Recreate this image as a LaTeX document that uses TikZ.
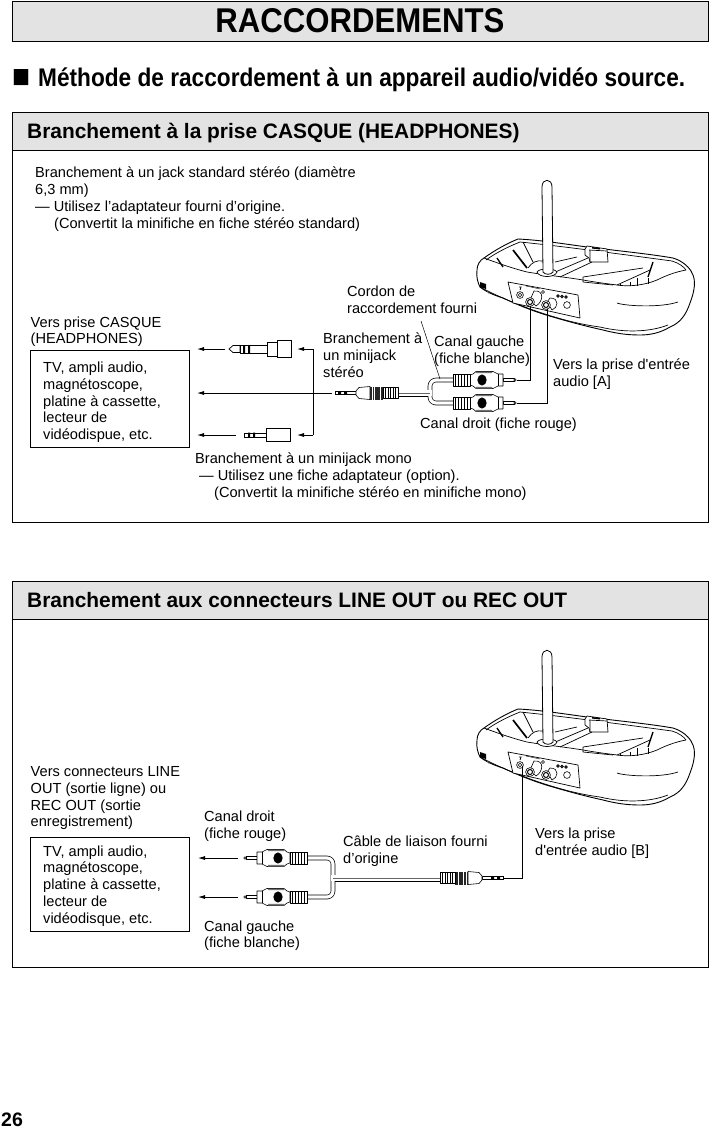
\documentclass[tikz,border=0pt]{standalone}
\usepackage{fontspec}
\setmainfont[Ligatures=TeXOff]{Liberation Sans}
\usetikzlibrary{arrows.meta}
\tikzset{
  x=1pt,y=-1pt,
  txt/.style={inner sep=0pt,anchor=north west,align=left,font=\fontsize{14.6}{16.7}\selectfont,text=black},
  sect/.style={draw=black,line width=0.7pt},
  hdr/.style={draw=black,line width=0.7pt,fill=black!11},
  hdrtxt/.style={inner sep=0pt,anchor=west,font=\bfseries\fontsize{20.9}{24}\selectfont},
  tvbox/.style={draw=black,line width=0.7pt,inner sep=0pt,anchor=north west},
  lead/.style={draw=black,line width=0.8pt,line join=miter},
  arr/.style={lead,-{Latex[length=7pt,width=4pt]}},
  cablew/.style={line width=4.6pt,draw=black,line join=round},
  cablei/.style={line width=3.2pt,draw=white,line join=round},
  cablemw/.style={line width=7pt,draw=black},
  cablemi/.style={line width=5.6pt,draw=white},
  cablemc/.style={line width=0.4pt,draw=black!60},
  plugl/.style={draw=black,line width=0.6pt,fill=white,line join=round},
  dev/.style={line width=0.7pt,line join=round}
}
\newcommand{\ribs}[4]{%
  \draw[plugl] (#1,{#4-#3}) rectangle (#2,{#4+#3});
  \foreach \k in {1,...,5}{\draw[line width=0.8pt] ({#1+(#2-#1)*\k/6},{#4-#3}) -- ({#1+(#2-#1)*\k/6},{#4+#3});}
}
% RCA plug, local x: -12 pin end, 0 = box, 50 = cable end, on y=0
\newcommand{\rca}{%
  \draw[plugl] (-11,-1.5) rectangle (0,1.5);
  \draw[line width=0.6pt,fill=white] (-12,0) circle (1.2pt);
  \draw[plugl] (0,-6) -- (5,-6) -- (10,-8.5) -- (27,-8.5) -- (30,-6) -- (33,-5) -- (33,5) -- (30,6) -- (27,8.5) -- (10,8.5) -- (5,6) -- (0,6) -- cycle;
  \draw[line width=0.6pt] (5,-6) -- (5,6);
  \fill[black!55] (11,-8.5) rectangle (27,-6.8) (11,8.5) rectangle (27,6.8);
  \fill[black] (21,0) ellipse (4.6pt and 5.6pt);
  \ribs{33}{50}{6}{0}
}
% mini stereo plug, x: 0 tip .. 63 end
\newcommand{\mini}{%
  \draw[line width=0.7pt,fill=white] (0,-1.6) -- (21,-1.6) -- (21,1.6) -- (0,1.6) -- cycle;
  \fill (3,-1.8) rectangle (6,1.8) (9,-1.8) rectangle (12,1.8);
  \draw[plugl] (21,-2) -- (24,-5.5) -- (35,-6.5) -- (35,6.5) -- (24,5.5) -- (21,2) -- cycle;
  \fill[black!85] (35,-6.5) rectangle (48,6.5);
  \foreach \k in {37,39.5,45}{\draw[white,line width=0.5pt] (\k,-6.5) -- (\k,6.5);}
  \ribs{48}{63}{5.5}{0}
}
% receiver; coordinates are those of the upper drawing
\newcommand{\receiver}{%
  % outer body
  \draw[line width=0.9pt,fill=white,line join=round]
    (477,270) .. controls (477,265) and (480,260) .. (484,258)
    .. controls (495,250) and (508,243) .. (518,239)
    .. controls (540,240) and (565,244) .. (587,247)
    .. controls (620,251) and (650,254) .. (673,258)
    .. controls (683,261) and (690,268) .. (692,273)
    .. controls (696,280) and (695,290) .. (690,303)
    .. controls (686,315) and (680,323) .. (670,327)
    .. controls (660,333) and (650,335) .. (640,335)
    .. controls (625,335) and (615,333) .. (603,330)
    .. controls (585,326) and (570,322) .. (553,317)
    .. controls (535,312) and (518,305) .. (503,298)
    .. controls (493,295) and (485,291) .. (480,287)
    .. controls (478,283) and (476,277) .. (477,270) -- cycle;
  % rim, inner line
  \draw[dev] (486,260) .. controls (497,252) and (510,246) .. (520,242)
    .. controls (560,246) and (620,254) .. (672,261) .. controls (679,263) and (684,267) .. (686,270);
  % tray front edge
  \draw[dev] (484,258) .. controls (500,264) and (515,269) .. (527,272)
    .. controls (545,275) and (565,277) .. (583,280) .. controls (600,283) and (610,284) .. (617,285)
    .. controls (630,287) and (645,285) .. (657,280) .. controls (665,276) and (675,272) .. (686,270);
  % block
  \draw[dev,fill=white] (585,249) -- (587,246) -- (607,249) -- (608,262) -- (590,262) -- (589,258) -- (585,255) -- cycle;
  \draw[dev] (589,250) -- (607,251) (590,250) -- (590,262);
  \fill (592,247) -- (600,248) -- (600,249.5) -- (592,248.5) -- cycle;
  % slats
  \draw[dev] (523,242) -- (533,262);
  \draw[line width=1.7pt] (513,250) -- (527,268);
  \draw[line width=1.3pt] (497,258) -- (503,267);
  \draw[line width=1.3pt] (648,277) -- (653,262);
  % rails
  \draw[dev] (555,262) -- (577,257) (553,273) -- (588,258) (560,277) -- (592,262);
  \draw[dev] (583,277) -- (643,268) (650,270) -- (617,285) (583,277) -- (583,282) -- (613,285);
  \draw[line width=0.9pt] (637,278) -- (637,286) (630,282) -- (630,286) (620,284) -- (620,286) (648,278) -- (648,284);
  % antenna
  \draw[dev] (528,268) .. controls (532,262) and (537,260) .. (543,261);
  \draw[dev,fill=white] (537,272) .. controls (539,278) and (555,278) .. (557,272) .. controls (555,268) and (539,268) .. (537,272) -- cycle;
  \draw[line width=0.8pt,fill=white] (543,272) -- (542,187)
     .. controls (542,178) and (552,178) .. (552,187) -- (553,272)
     .. controls (551,275) and (545,275) .. (543,272) -- cycle;
  % front details
  \draw[dev] (480,287) .. controls (510,303) and (560,322) .. (600,327)
     .. controls (625,333) and (650,332) .. (668,325);
  \draw[dev] (617,303) .. controls (625,306) and (660,308) .. (678,302);
  \fill (480,282) -- (486,284) -- (486,289) -- (480,287) -- cycle;
  \draw[line width=0.4pt,black!50] (487,290) -- (489,294);
  % jack panel
  \draw[dev,fill=white] (508,282) -- (578,295) -- (580,318) -- (513,303) -- cycle;
  \draw[line width=0.6pt] (520,295) circle (3.4pt) (520,295) circle (1.8pt);
  \draw[line width=0.6pt,fill=white] (534,291) .. controls (545,290) and (543,302) .. (536,306) -- (530,300) -- cycle;
  \draw[line width=0.6pt,fill=white] (530,302) circle (4.4pt);
  \draw[line width=1pt] (530,302) circle (2.5pt);
  \draw[line width=0.6pt,fill=white] (550,298) .. controls (560,298) and (558,308) .. (552,310) -- (547,302) -- cycle;
  \draw[line width=0.6pt,fill=white] (546,305) circle (4.4pt);
  \draw[line width=1pt] (546,305) circle (2.5pt);
  \draw[line width=0.6pt] (567,305) circle (3.4pt);
  \draw[line width=0.9pt] (558,296) circle (1.2pt) (562,296.5) circle (1.2pt) (566,297) circle (1.2pt);
  \draw[line width=0.4pt] (526,286) -- (540,289);
  \draw[line width=0.5pt] (543,292) circle (1.5pt);
  \draw[line width=0.8pt] (519,287) -- (521,287) -- (520,290);
}
\begin{document}
\begin{tikzpicture}
\useasboundingbox (0,0) rectangle (709,1128);
\fill[white] (0,0) rectangle (709,1128);
% title
\node[hdr,minimum width=696pt,minimum height=40pt,inner sep=0pt,anchor=north west] (title) at (12,0.5) {};
\node[inner sep=0pt,font=\bfseries] (titlet) at (360,20.5) {\resizebox{289pt}{24pt}{RACCORDEMENTS}};
\node[inner sep=0pt,anchor=west] (subq) at (12,78.5) {\resizebox{18pt}{18pt}{■}};
\node[inner sep=0pt,anchor=west,font=\bfseries] (sub) at (38,80) {\resizebox*{647pt}{24pt}{Méthode de raccordement à un appareil audio/vidéo source.}};
% section frames
\draw[sect] (12,112) rectangle (708,522);
\node[hdr,minimum width=696pt,minimum height=38pt,inner sep=0pt,anchor=north west] (h1) at (12,112) {};
\node[hdrtxt] (h1t) at (27,132.5) {Branchement à la prise CASQUE (HEADPHONES)};
\draw[sect] (12,581) rectangle (708,967);
\node[hdr,minimum width=696pt,minimum height=38pt,inner sep=0pt,anchor=north west] (h2) at (12,581) {};
\node[hdrtxt] (h2t) at (27,600) {Branchement aux connecteurs LINE OUT ou REC OUT};
% receivers
\begin{scope}\receiver\end{scope}
\begin{scope}[shift={(0,470)}]\receiver\end{scope}

% ------------ upper diagram
\node[txt] (t1) at (35,167) {Branchement à un jack standard stéréo (diamètre\\6,3 mm)\\— Utilisez l’adaptateur fourni d’origine.\\\hspace*{19pt}(Convertit la minifiche en fiche stéréo standard)};
\node[txt] (t2) at (347,286) {Cordon de\\raccordement fourni};
\node[txt] (t3) at (30.5,316.5) {Vers prise CASQUE\\(HEADPHONES)};
\node[txt] (t4) at (323,333) {Branchement à\\un minijack\\stéréo};
\node[txt] (t5) at (434,336) {Canal gauche\\(fiche blanche)};
\node[txt] (t6) at (553,359) {Vers la prise d'entrée\\audio [A]};
\node[txt] (t7) at (420,418) {Canal droit (fiche rouge)};
\node[txt] (t8) at (195,453) {Branchement à un minijack mono\\\hspace*{4pt}— Utilisez une fiche adaptateur (option).\\\hspace*{19pt}(Convertit la minifiche stéréo en minifiche mono)};
\node[tvbox,minimum width=159pt,minimum height=97pt] (tv1) at (30,350) {};
\node[txt] (tv1t) at (43,362) {TV, ampli audio,\\magnétoscope,\\platine à cassette,\\lecteur de\\vidéodispue, etc.};

% stereo jack adapter
\coordinate (a1) at (197,349); \coordinate (a1s) at (225,349);
\draw[arr] (a1s) -- (a1);
\draw[line width=0.7pt,fill=white] (229,349) -- (233,345.5) -- (240,345.5) -- (240,352.5) -- (233,352.5) -- cycle;
\draw[line width=0.7pt,fill=white] (240,345) rectangle (267,353);
\fill (243,345) rectangle (245,353) (248,345) rectangle (250,353);
\draw[line width=0.8pt,fill=white] (267,342) -- (277,342) -- (277,356) -- (267,356) -- cycle;
\draw[line width=0.8pt,fill=white] (277,340.5) rectangle (291,357.5);
% mono adapter
\coordinate (a3) at (197,435); \coordinate (a3s) at (236,435);
\draw[arr] (a3s) -- (a3);
\draw[line width=0.7pt,fill=white] (244,433) rectangle (266,437);
\fill (248,432.5) rectangle (250,437.5) (253,432.5) rectangle (255,437.5);
\draw[line width=0.8pt,fill=white] (266,428) rectangle (290,441);
% bracket
\coordinate (b1) at (297,349); \coordinate (b2) at (313,349); \coordinate (b3) at (313,435); \coordinate (b4) at (297,435);
\draw[lead,-{Latex[length=7pt,width=4pt]}] (b3) -- (b2) -- (b1);
\draw[arr] (b3) -- (b4);
% centre arrow
\coordinate (a2) at (197,393); \coordinate (a2s) at (332,393);
\draw[arr] (a2s) -- (a2);
% Y cable
\draw[cablemw] (397,393) -- (430,393);
\draw[cablew,rounded corners=6pt] (454,380) -- (430,380) -- (430,403) -- (454,403);
\draw[cablemi] (397,393) -- (432,393);
\draw[cablei,rounded corners=6pt] (454,380) -- (430,380) -- (430,403) -- (454,403);
\draw[cablemc] (397,393) -- (430,393);
\begin{scope}[shift={(335,393)}]\mini\end{scope}
\begin{scope}[shift={(503,380)},xscale=-1]\rca\end{scope}
\begin{scope}[shift={(503,403)},xscale=-1]\rca\end{scope}
% leads to receiver
\coordinate (jl) at (530,306); \coordinate (jr) at (547,309);
\coordinate (pl) at (517,380); \coordinate (pr) at (517,403);
\draw[lead] (pl) -| (jl);
\draw[lead] (pr) -| (jr);
% leader for Cordon
\coordinate (c1) at (421,321); \coordinate (c2) at (440,379);
\draw[line width=0.5pt] (c1) -- (c2);

% ------------ lower diagram
\node[txt] (u1) at (30.5,766.5) {Vers connecteurs LINE\\OUT (sortie ligne) ou\\REC OUT (sortie\\enregistrement)};
\node[txt] (u2) at (204,811) {Canal droit\\(fiche rouge)};
\node[txt] (u3) at (343,836) {Câble de liaison fourni\\d’origine};
\node[txt] (u4) at (535,828) {Vers la prise\\d'entrée audio [B]};
\node[txt] (u5) at (204,920.5) {Canal gauche\\(fiche blanche)};
\node[tvbox,minimum width=159pt,minimum height=94pt] (tv2) at (30,837) {};
\node[txt] (tv2t) at (43,845.5) {TV, ampli audio,\\magnétoscope,\\platine à cassette,\\lecteur de\\vidéodisque, etc.};
\coordinate (d1) at (198,858); \coordinate (d1s) at (238,858);
\coordinate (d2) at (198,897); \coordinate (d2s) at (238,897);
\draw[arr] (d1s) -- (d1);
\draw[arr] (d2s) -- (d2);
\draw[cablemw] (333,878) -- (441,878);
\draw[cablew,rounded corners=6pt] (306,858) -- (333,858) -- (333,897) -- (306,897);
\draw[cablemi] (331,878) -- (441,878);
\draw[cablei,rounded corners=6pt] (306,858) -- (333,858) -- (333,897) -- (306,897);
\draw[cablemc] (333,878) -- (441,878);
\begin{scope}[shift={(257,858)}]\rca\end{scope}
\begin{scope}[shift={(257,897)}]\rca\end{scope}
\begin{scope}[shift={(503,878)},xscale=-1]\mini\end{scope}
\coordinate (q) at (503,878); \coordinate (jb) at (522,766);
\draw[lead] (q) -| (jb);
% page number
\node[inner sep=0pt,anchor=base west,font=\bfseries\fontsize{19.5}{22}\selectfont] (pg) at (1,1126) {26};
\end{tikzpicture}
\end{document}
